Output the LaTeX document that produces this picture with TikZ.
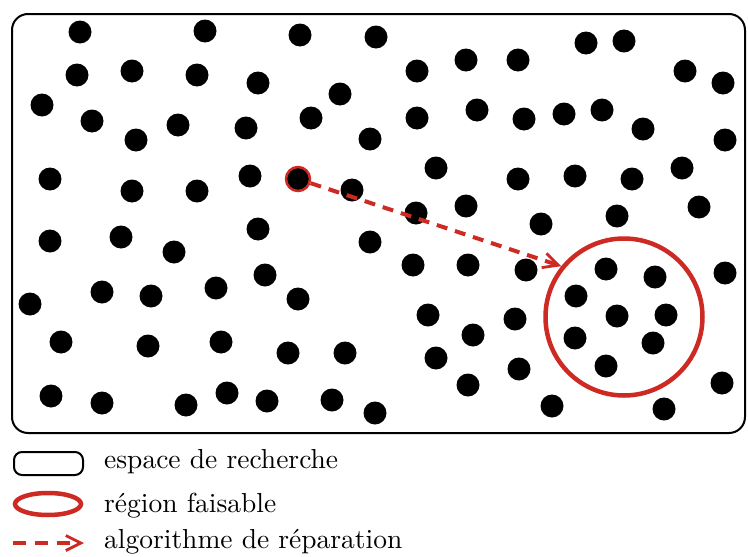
\documentclass[tikz,border=0pt]{standalone}
\usetikzlibrary{arrows.meta}
\definecolor{feasred}{RGB}{204,42,34}
\newcommand{\legendlabel}[1]{\scalebox{2.75}{#1}}
\tikzset{
  solution/.style={fill=black},
  repair/.style={feasred, line width=4pt, dash pattern=on 11pt off 8pt,
    -{Straight Barb[length=15pt,width=15pt,line width=2.8pt]}},
  legendtext/.style={anchor=base west, inner sep=0pt}
}
\begin{document}
\begin{tikzpicture}[x=1pt,y=-1pt]
  \useasboundingbox (0,0) rectangle (748,557);

  % Search space
  \draw[line width=2pt, rounded corners=16pt] (12,14) rectangle (745,433);

  % Solutions
  \foreach \x/\y in {80/32, 205/31, 300/35, 376/37, 586/43, 624/41,
      77/75, 132/71, 197/75, 258/83, 417/71, 466/60, 518/60, 685/71, 723/83,
      340/94, 42/105, 92/121, 136/140, 178/125, 246/128, 311/118, 370/139,
      417/118, 477/110, 524/119, 564/114, 602/110, 643/129, 725/140,
      50/179, 132/191, 197/191, 250/176, 352/190, 436/168, 518/179,
      575/176, 632/179, 682/168,
      416/213, 466/206, 541/224, 617/216, 699/207,
      50/241, 121/237, 174/252, 258/229, 370/242,
      413/265, 468/265, 526/270, 725/273,
      30/304, 102/292, 151/296, 216/288, 265/275, 298/299,
      428/315, 473/335, 515/319,
      61/342, 148/346, 221/342, 288/353, 345/353,
      436/358, 519/369, 468/385, 722/383,
      51/396, 102/403, 186/405, 227/393, 267/401, 332/400, 375/413,
      552/406, 664/409,
      606/269, 655/277, 576/296, 617/316, 666/315, 575/338, 653/343, 606/366}
    \fill[solution] (\x,\y) circle (11.5pt);

  % Infeasible solution
  \node[circle, fill=black, draw=feasred, line width=2.5pt, inner sep=0pt,
    minimum size=24pt] (start) at (298,179) {};

  % Feasible region
  \node[circle, draw=feasred, line width=4.5pt, inner sep=0pt,
    minimum size=157pt] (region) at (624,317) {};

  % Repair
  \draw[repair] (start) -- (region.141.6);

  % Legend
  \draw[line width=2pt, rounded corners=8pt] (14,452) rectangle (83,475);
  \node[legendtext] (legsearch) at (104,468) {\legendlabel{espace de recherche}};
  \draw[feasred, line width=4.5pt] (48,504) ellipse (33pt and 11pt);
  \node[legendtext] (legregion) at (104,512) {\legendlabel{région faisable}};
  \coordinate (legfrom) at (13,543);
  \coordinate (legto) at (84,543);
  \draw[repair, dash pattern=on 13pt off 9pt] (legfrom) -- (legto);
  \node[legendtext] (legrepair) at (104,548) {\legendlabel{algorithme de réparation}};
\end{tikzpicture}
\end{document}
